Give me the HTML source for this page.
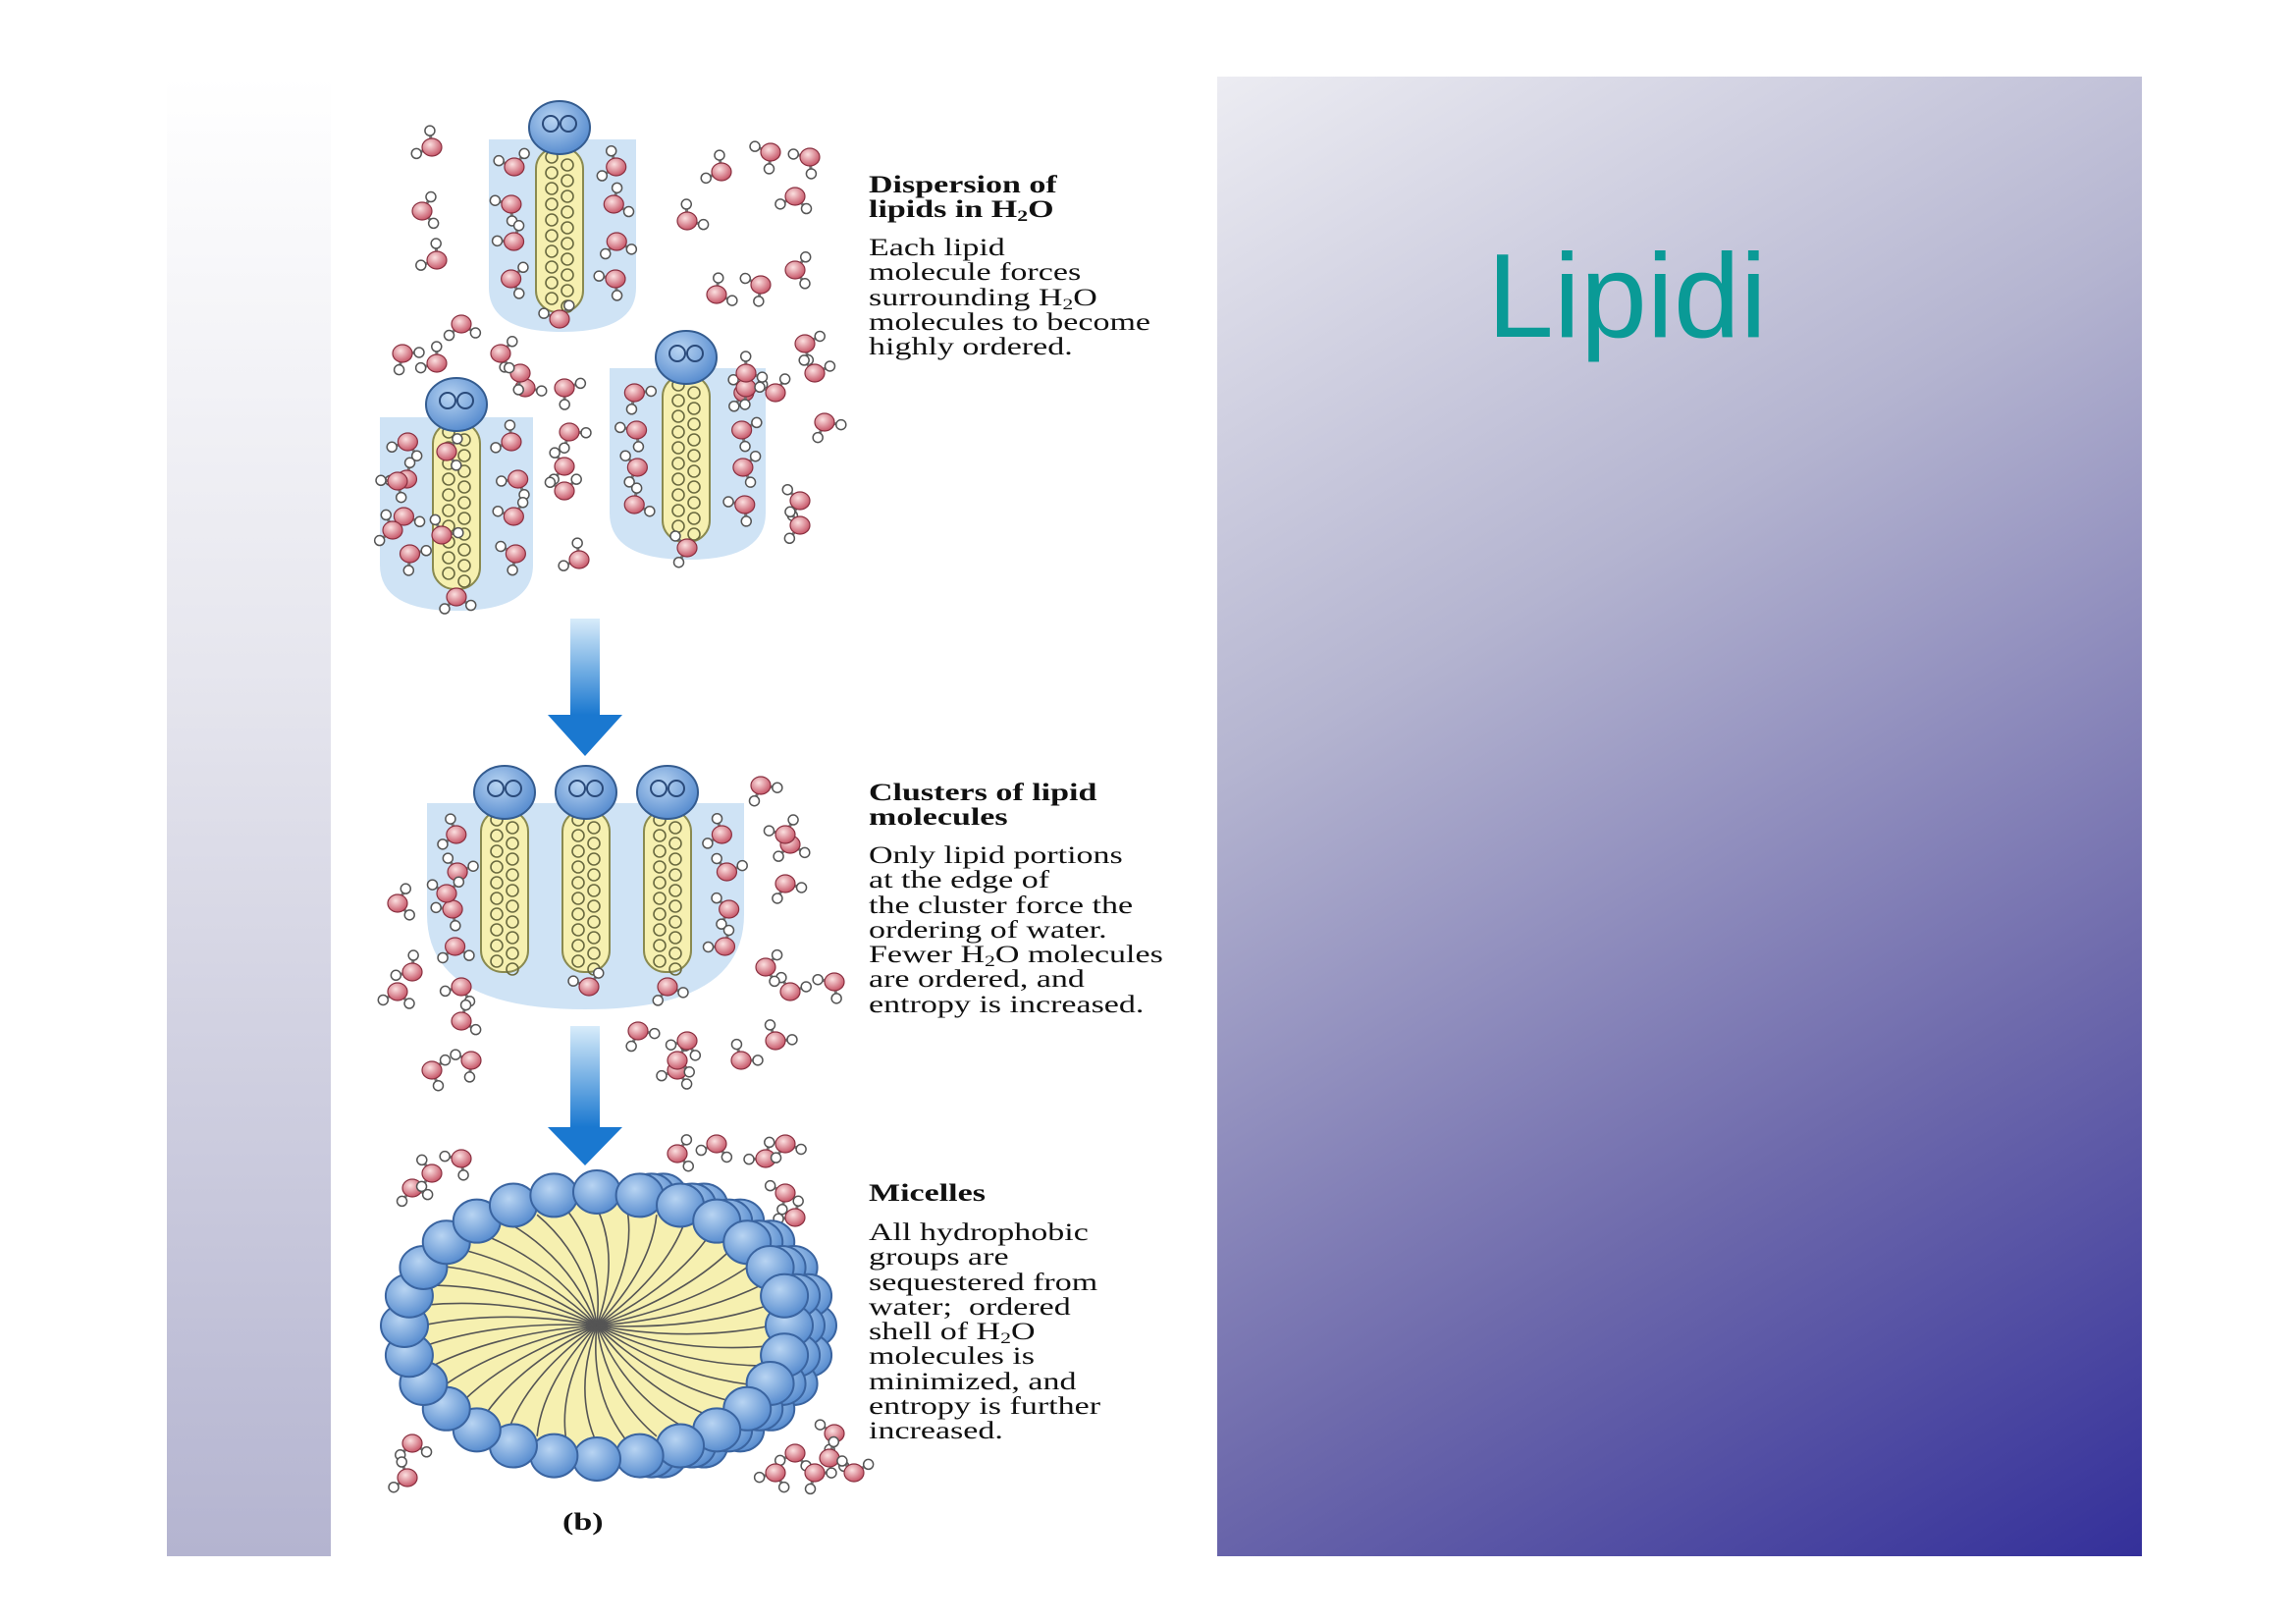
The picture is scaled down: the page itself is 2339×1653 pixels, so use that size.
<!DOCTYPE html>
<html><head><meta charset="utf-8">
<style>
html,body{margin:0;padding:0;background:#fff;}
body{width:2339px;height:1653px;position:relative;overflow:hidden;}
.lp{position:absolute;left:170px;top:78px;width:167px;height:1507px;background:linear-gradient(to bottom,#ffffff 0%,#e6e6ee 40%,#b4b4d0 100%);}
.rp{position:absolute;left:1240px;top:78px;width:942px;height:1507px;background:linear-gradient(150deg,#ececf2 0%,#b4b4d0 35%,#6e6aac 70%,#34309a 100%);}
.title{position:absolute;left:1515px;top:240px;font-family:"Liberation Sans",sans-serif;font-size:122px;color:#0a9a96;line-height:1;}
.t{position:absolute;left:885px;font-family:"Liberation Serif",serif;font-size:25px;line-height:25.3px;color:#111;transform:scaleX(1.36);transform-origin:0 0;white-space:nowrap;}
.t b{font-weight:bold;}
sub{font-size:16px;vertical-align:-4px;line-height:0;}
svg{position:absolute;left:0;top:0;}
</style></head><body>
<div class="lp"></div>
<div class="rp"></div>
<div class="title">Lipidi</div>
<svg id="s" width="2339" height="1653" viewBox="0 0 2339 1653">
<defs>
<radialGradient id="hb" cx="40%" cy="35%" r="65%"><stop offset="0" stop-color="#b8d4f2"/><stop offset="1" stop-color="#5a8ed0"/></radialGradient>
<radialGradient id="ox" cx="40%" cy="35%" r="65%"><stop offset="0" stop-color="#fbe0e0"/><stop offset="1" stop-color="#c8586a"/></radialGradient>
<linearGradient id="ar" x1="0" y1="0" x2="0" y2="1"><stop offset="0" stop-color="#d8ecfa"/><stop offset="1" stop-color="#1a78d0"/></linearGradient>
</defs>
<g id="g"></g>
</svg>
<div class="t" style="top:176px"><b>Dispersion of<br>lipids in H<sub>2</sub>O</b></div>
<div class="t" style="top:240px">Each lipid<br>molecule forces<br>surrounding H<sub>2</sub>O<br>molecules to become<br>highly ordered.</div>
<div class="t" style="top:795px"><b>Clusters of lipid<br>molecules</b></div>
<div class="t" style="top:859px">Only lipid portions<br>at the edge of<br>the cluster force the<br>ordering of water.<br>Fewer H<sub>2</sub>O molecules<br>are ordered, and<br>entropy is increased.</div>
<div class="t" style="top:1203px"><b>Micelles</b></div>
<div class="t" style="top:1243px">All hydrophobic<br>groups are<br>sequestered from<br>water;&nbsp; ordered<br>shell of H<sub>2</sub>O<br>molecules is<br>minimized, and<br>entropy is further<br>increased.</div>
<div class="t" style="top:1538px;left:573px;font-weight:bold">(b)</div>
<script>
var g=document.getElementById('g'),h='';
function U(x1,y1,x2,y2){var w=x2-x1,r=w/2;h+='<path d="M'+x1+' '+y1+'H'+x2+'V'+(y2-r*0.6)+'Q'+x2+' '+y2+' '+(x1+r)+' '+y2+'Q'+x1+' '+y2+' '+x1+' '+(y2-r*0.6)+'Z" fill="#cfe3f5"/>';}
function chain(cx,y1,y2){h+='<rect x="'+(cx-24)+'" y="'+y1+'" width="48" height="'+(y2-y1)+'" rx="22" fill="#f6f0b0" stroke="#8a8a50" stroke-width="2"/>';
for(var y=y1+10;y<y2-8;y+=16){h+='<circle cx="'+(cx-8)+'" cy="'+y+'" r="6" fill="none" stroke="#6a6a40" stroke-width="1.6"/><circle cx="'+(cx+8)+'" cy="'+(y+8)+'" r="6" fill="none" stroke="#6a6a40" stroke-width="1.6"/>';}}
function head(cx,cy){h+='<ellipse cx="'+cx+'" cy="'+cy+'" rx="31" ry="27" fill="url(#hb)" stroke="#345c90" stroke-width="2"/><circle cx="'+(cx-9)+'" cy="'+(cy-4)+'" r="8" fill="none" stroke="#2a4a7a" stroke-width="2"/><circle cx="'+(cx+9)+'" cy="'+(cy-4)+'" r="8" fill="none" stroke="#2a4a7a" stroke-width="2"/>';}
function W(x,y,a){var r=Math.PI/180,a1=a*r,a2=(a+105)*r,d=17;
var x1=x+Math.cos(a1)*d,y1=y+Math.sin(a1)*d,x2=x+Math.cos(a2)*d,y2=y+Math.sin(a2)*d;
h+='<line x1="'+x+'" y1="'+y+'" x2="'+x1+'" y2="'+y1+'" stroke="#777" stroke-width="3"/><line x1="'+x+'" y1="'+y+'" x2="'+x2+'" y2="'+y2+'" stroke="#777" stroke-width="3"/><circle cx="'+x1+'" cy="'+y1+'" r="5" fill="#fff" stroke="#555" stroke-width="1.5"/><circle cx="'+x2+'" cy="'+y2+'" r="5" fill="#fff" stroke="#555" stroke-width="1.5"/><ellipse cx="'+x+'" cy="'+y+'" rx="10" ry="9" fill="url(#ox)" stroke="#8a3040" stroke-width="1.2"/>';}
var seed=7;function R(){seed=(seed*9301+49297)%233280;return seed/233280;}
U(498,142,648,338);U(387,425,543,622);U(621,375,780,570);U(435,818,758,1028);
chain(570,150,318);chain(465,430,600);chain(699,382,552);chain(514,825,990);chain(597,825,990);chain(680,825,990);
head(570,130);head(465,412);head(699,364);head(514,807);head(597,807);head(680,807);
function side(x,y1,y2){for(var y=y1;y<y2;y+=38)W(x+R()*8,y,R()*360);}
side(520,170,320);side(623,170,320);side(410,450,600);side(520,450,600);side(645,400,550);side(755,400,550);side(460,850,990);side(735,850,990);
W(570,325,200);W(465,608,30);W(700,558,120);W(470,1005,60);W(600,1005,200);W(680,1005,20);
var L=[[440,150],[430,215],[445,265],[735,175],[785,155],[825,160],[700,225],[810,200],[775,290],[730,300],[810,275],[760,395],[820,350],[455,460],[760,380],[830,380],[790,400],[840,430],[815,510],[815,535],[405,490],[400,540],[450,545],[535,395],[530,380],[575,395],[580,440],[575,475],[575,500],[590,570],[470,330],[410,360],[445,370],[510,360],[455,910],[420,990],[405,1010],[470,1040],[440,1090],[480,1080],[650,1050],[690,1090],[755,1080],[790,1060],[805,1010],[780,985],[850,1000],[690,1080],[700,1060],[800,900],[805,860],[775,800],[800,850],[405,920],[690,1175],[730,1165],[780,1180],[800,1165],[800,1215],[810,1240],[420,1210],[440,1195],[470,1180],[850,1460],[845,1485],[810,1480],[790,1500],[830,1500],[870,1500],[420,1470],[415,1505],[770,1440]];
L.forEach(function(p){W(p[0],p[1],R()*360);});
function A(x,y1,y2,tip){h+='<rect x="'+(x-15)+'" y="'+y1+'" width="30" height="'+(y2-y1)+'" fill="url(#ar)"/><path d="M'+(x-38)+' '+y2+'H'+(x+38)+'L'+x+' '+tip+'Z" fill="#1a78d0"/>';}
A(596,630,728,770);A(596,1045,1148,1187);
var cx=608,cy=1350,rx=218,ry=150;
for(var k=2;k>=1;k--){for(var i=0;i<28;i++){var a=i*2*Math.PI/28;if(Math.cos(a)<0.1)continue;h+='<ellipse cx="'+(cx+k*12+Math.cos(a)*(rx-22))+'" cy="'+(cy+Math.sin(a)*(ry-14))+'" rx="24" ry="22" fill="url(#hb)" stroke="#3a64a0" stroke-width="2"/>';}}
h+='<ellipse cx="'+cx+'" cy="'+cy+'" rx="'+(rx-20)+'" ry="'+(ry-16)+'" fill="#f6f0b0"/>';
for(var i=0;i<36;i++){var a=i*10*Math.PI/180,ex=cx+Math.cos(a)*(rx-40),ey=cy+Math.sin(a)*(ry-30),mx=cx+Math.cos(a+0.25)*(rx-120),my=cy+Math.sin(a+0.25)*(ry-80);
h+='<path d="M'+cx+' '+cy+'Q'+mx+' '+my+' '+ex+' '+ey+'" fill="none" stroke="#555" stroke-width="1.6"/>';}
for(var i=0;i<28;i++){var a=i*2*Math.PI/28;h+='<ellipse cx="'+(cx+Math.cos(a)*(rx-22))+'" cy="'+(cy+Math.sin(a)*(ry-14))+'" rx="24" ry="22" fill="url(#hb)" stroke="#3a64a0" stroke-width="2"/>';}
g.innerHTML=h;
</script>
</body></html>
